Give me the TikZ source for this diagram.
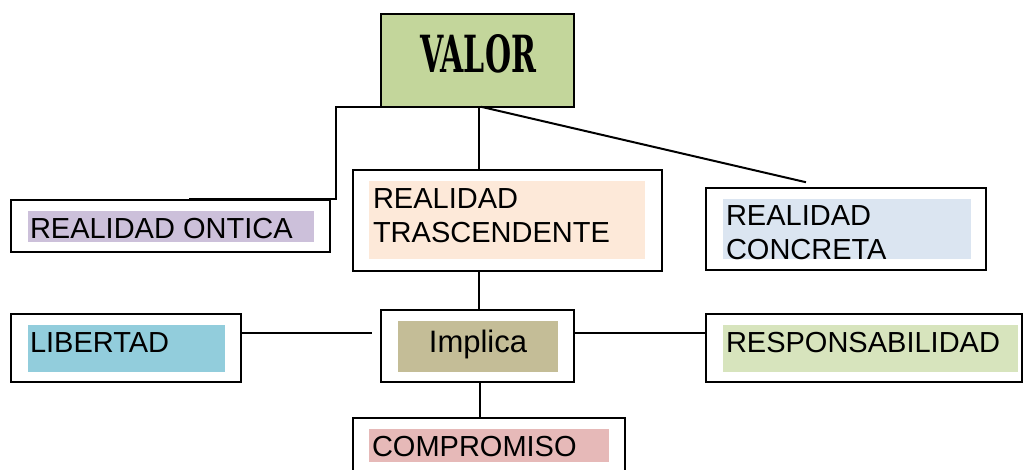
\documentclass[tikz,border=0pt]{standalone}
\usepackage{fontspec}
\setmainfont{Liberation Sans}
\newfontfamily\valorfont{DejaVu Serif Condensed}
\definecolor{cvalor}{HTML}{C3D69B}
\definecolor{contica}{HTML}{CCC0DA}
\definecolor{ctrasc}{HTML}{FDE9D9}
\definecolor{cconcreta}{HTML}{DBE5F1}
\definecolor{clibertad}{HTML}{92CDDC}
\definecolor{cimplica}{HTML}{C4BD97}
\definecolor{cresp}{HTML}{D7E4BD}
\definecolor{ccomp}{HTML}{E6B9B8}
\begin{document}
\begin{tikzpicture}[x=1pt,y=-1pt,
  outerbox/.style={draw=black,line width=2pt,fill=white,inner sep=0pt,outer sep=0pt},
  hlbox/.style={draw=none,inner sep=0pt,outer sep=0pt},
  lbl/.style={inner sep=0pt,outer sep=0pt,anchor=base west,font=\fontsize{29}{34}\selectfont},
  conn/.style={line width=2pt,line cap=rect}]
\useasboundingbox (0,0) rectangle (1024,469);
\fill[white] (0,0) rectangle (1024,469);
% boxes
\node[outerbox,fill=cvalor,minimum width=193pt,minimum height=93pt] (valor) at (477.5,60.5) {};
\node[inner sep=0pt] (valortxt) at (478,54) {\resizebox{116pt}{38pt}{\valorfont\bfseries VALOR}};

\node[outerbox,minimum width=319pt,minimum height=52pt] (ontica) at (170.5,226) {};
\node[hlbox,fill=contica,minimum width=286pt,minimum height=31pt] (onticahl) at (171,226.5) {};
\node[lbl] (onticatxt) at (30,238) {REALIDAD ONTICA};

\node[outerbox,minimum width=309pt,minimum height=101pt] (trasc) at (507.5,220.5) {};
\node[hlbox,fill=ctrasc,minimum width=276pt,minimum height=78pt] (traschl) at (507,220) {};
\node[lbl] (trasctxta) at (373,208) {REALIDAD};
\node[lbl] (trasctxtb) at (373,242) {TRASCENDENTE};

\node[outerbox,minimum width=280pt,minimum height=82pt] (concreta) at (846,229) {};
\node[hlbox,fill=cconcreta,minimum width=248pt,minimum height=60pt] (concretahl) at (847,229) {};
\begin{scope}
\clip (723,199) rectangle (971,259.5);
\node[lbl] (concretatxta) at (726,225) {REALIDAD};
\node[lbl] (concretatxtb) at (726,259) {CONCRETA};
\end{scope}

\node[outerbox,minimum width=230pt,minimum height=68pt] (libertad) at (126,348) {};
\node[hlbox,fill=clibertad,minimum width=197pt,minimum height=47pt] (libertadhl) at (126.5,348.5) {};
\node[lbl] (libertadtxt) at (30,352) {LIBERTAD};

\node[outerbox,minimum width=193pt,minimum height=72pt] (implica) at (477.5,346) {};
\node[hlbox,fill=cimplica,minimum width=160pt,minimum height=51pt] (implicahl) at (478,346.5) {};
\node[inner sep=0pt,outer sep=0pt,anchor=base,font=\fontsize{31}{36}\selectfont] (implicatxt) at (478,352) {Implica};

\node[outerbox,minimum width=316pt,minimum height=68pt] (resp) at (864,348) {};
\node[hlbox,fill=cresp,minimum width=295pt,minimum height=47pt] (resphl) at (870.5,348.5) {};
\node[lbl] (resptxt) at (726,352) {RESPONSABILIDAD};

\node[outerbox,minimum width=272pt,minimum height=70pt] (comp) at (489,453) {};
\node[hlbox,fill=ccomp,minimum width=240pt,minimum height=33pt] (comphl) at (489,445.5) {};
\node[lbl] (comptxt) at (372,456) {COMPROMISO};

% connector helper coordinates
\coordinate (cx) at (479,0);
\coordinate (cy) at (480,0);
\coordinate (ka) at (336,107);
\coordinate (kb) at (336,199);
\coordinate (kc) at (190,199);
\coordinate (cc) at (805,182);
\coordinate (ly) at (371,333);
\coordinate (ry) at (0,333);

% connectors
\draw[conn] (valor.south west) -- (ka) -- (kb) -- (kc);
\draw[conn] (valor.south -| cx) -- (trasc.north -| cx);
\draw[conn] (valor.south -| cx) ++(3,0) -- (cc);
\draw[conn] (trasc.south -| cx) -- (implica.north -| cx);
\draw[conn] (libertad.east |- ly) -- (ly);
\draw[conn] (implica.east |- ry) -- (resp.west |- ry);
\draw[conn] (implica.south -| cy) -- (comp.north -| cy);
\end{tikzpicture}
\end{document}
